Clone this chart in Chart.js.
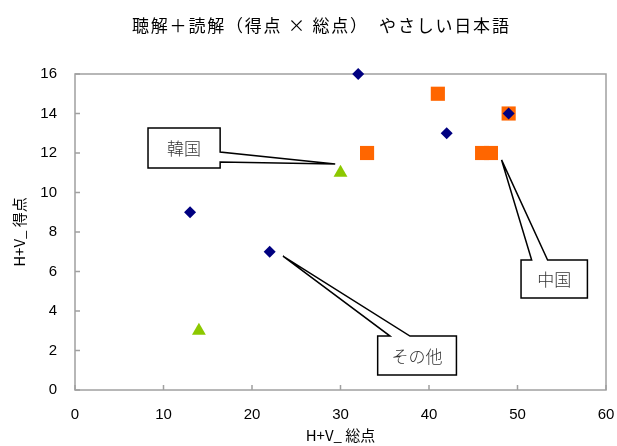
<!DOCTYPE html>
<html>
<head>
<meta charset="utf-8">
<script src="https://cdn.jsdelivr.net/npm/chart.js@4.4.1/dist/chart.umd.min.js"></script>
<style>
  html, body { margin: 0; padding: 0; background: #fff; }
  #wrap { width: 617px; height: 446px; }
</style>
</head>
<body>
<div id="wrap"><canvas id="scoreChart" width="617" height="446"></canvas></div>
<script>
// Data (x = H+V 総点, y = H+V 得点)
const otherX = [32, 13, 22, 42, 49];
const otherY = [16, 9, 7, 13, 14];
const chinaX = [41, 33, 49, 46, 47];
const chinaY = [15, 12, 14, 12, 12];
const koreaX = [30, 14];
const koreaY = [11, 3];

const xTicks = [0, 10, 20, 30, 40, 50, 60];
const yTicks = [0, 2, 4, 6, 8, 10, 12, 14, 16];

const chartTitle = '聴解＋読解（得点 × 総点）　やさしい日本語';

// callout boxes, in data units: box, side the pointer leaves from, pointer base and tip
const callouts = [
    { text: '韓国', box: [8.25, 13.27, 16.4, 11.24], side: 'right', base: [12.05, 11.54], tip: [29.4, 11.44] },
    { text: '中国', box: [50.4, 6.58, 57.9, 4.66], side: 'top', base: [51.6, 53.4], tip: [48.2, 11.65] },
    { text: 'その他', box: [34.2, 2.73, 43.1, 0.76], side: 'top', base: [35.6, 37.85], tip: [23.5, 6.78] },
];

function toPoints(xs, ys) {
    return xs.map((x, i) => ({ x: x, y: ys[i] }));
}

const frameAndTicks = {
    id: 'frameAndTicks',
    beforeDatasetsDraw(chart) {
        const { ctx, chartArea: a, scales } = chart;
        ctx.save();
        ctx.strokeStyle = '#a0a0a0';
        ctx.lineWidth = 1.5;
        ctx.strokeRect(a.left, a.top, a.right - a.left, a.bottom - a.top);
        ctx.beginPath();
        xTicks.forEach(v => {
            const px = scales.x.getPixelForValue(v);
            ctx.moveTo(px, a.bottom);
            ctx.lineTo(px, a.bottom - 5);
        });
        yTicks.forEach(v => {
            const py = scales.y.getPixelForValue(v);
            ctx.moveTo(a.left, py);
            ctx.lineTo(a.left + 5, py);
        });
        ctx.stroke();
        ctx.restore();
    },
    afterDraw(chart) {
        // title, spaced out like the original
        const { ctx } = chart;
        ctx.save();
        ctx.font = '17px "Noto Sans CJK JP"';
        ctx.letterSpacing = '1.8px';
        ctx.fillStyle = '#000';
        ctx.textAlign = 'left';
        ctx.textBaseline = 'middle';
        ctx.fillText(chartTitle, 132, 26);
        ctx.restore();
    }
};

const calloutPlugin = {
    id: 'callouts',
    afterDatasetsDraw(chart) {
        const { ctx, scales } = chart;
        const sx = v => scales.x.getPixelForValue(v);
        const sy = v => scales.y.getPixelForValue(v);
        ctx.save();
        callouts.forEach(c => {
            const l = sx(c.box[0]), t = sy(c.box[1]), r = sx(c.box[2]), b = sy(c.box[3]);
            const tx = sx(c.tip[0]), ty = sy(c.tip[1]);
            ctx.beginPath();
            ctx.moveTo(l, t);
            if (c.side === 'top') {
                ctx.lineTo(sx(c.base[0]), t);
                ctx.lineTo(tx, ty);
                ctx.lineTo(sx(c.base[1]), t);
                ctx.lineTo(r, t);
                ctx.lineTo(r, b);
            } else {
                ctx.lineTo(r, t);
                ctx.lineTo(r, sy(c.base[0]));
                ctx.lineTo(tx, ty);
                ctx.lineTo(r, sy(c.base[1]));
                ctx.lineTo(r, b);
            }
            ctx.lineTo(l, b);
            ctx.closePath();
            ctx.fillStyle = '#fff';
            ctx.fill();
            ctx.strokeStyle = '#000';
            ctx.lineWidth = 1.5;
            ctx.stroke();
            ctx.fillStyle = '#333';
            ctx.font = '300 17px "Noto Sans CJK JP"';
            ctx.textAlign = 'center';
            ctx.textBaseline = 'middle';
            ctx.fillText(c.text, (l + r) / 2, (t + b) / 2 + 1);
        });
        ctx.restore();
    }
};

const chartConfig = {
    type: 'scatter',
    data: {
        datasets: [
            {
                label: 'その他',
                data: toPoints(otherX, otherY),
                pointStyle: 'rectRot',
                pointRadius: 6,
                backgroundColor: '#000080',
                borderColor: '#000080',
                borderWidth: 0,
                clip: false,
                order: 1,
            },
            {
                label: '韓国',
                data: toPoints(koreaX, koreaY),
                pointStyle: 'triangle',
                pointRadius: 8,
                backgroundColor: '#8CC800',
                borderColor: '#8CC800',
                borderWidth: 0,
                clip: false,
                order: 2,
            },
            {
                label: '中国',
                data: toPoints(chinaX, chinaY),
                pointStyle: 'rect',
                pointRadius: 10,
                backgroundColor: '#FF6600',
                borderColor: '#FF6600',
                borderWidth: 0,
                clip: false,
                order: 3,
            },
        ],
    },
    options: {
        responsive: false,
        animation: false,
        layout: { padding: { left: 0, right: 11, top: 74, bottom: 0 } },
        plugins: {
            legend: { display: false },
            tooltip: { enabled: false },
            title: { display: false },
        },
        scales: {
            x: {
                type: 'linear',
                min: 0,
                max: 60,
                afterBuildTicks: s => { s.ticks = xTicks.map(v => ({ value: v })); },
                afterFit: s => { s.height = 56; s.paddingLeft = 0; s.paddingRight = 0; },
                grid: { display: false, drawTicks: false },
                border: { display: false },
                ticks: { color: '#000', padding: 16, font: { family: 'Liberation Sans', size: 15 } },
                title: {
                    display: true,
                    text: 'H+V_ 総点',
                    color: '#000',
                    font: { family: '"Noto Sans CJK JP"', size: 15 },
                    padding: { top: 0, bottom: 2 },
                },
            },
            y: {
                type: 'linear',
                min: 0,
                max: 16,
                afterBuildTicks: s => { s.ticks = yTicks.map(v => ({ value: v })); },
                afterFit: s => { s.width = 75; s.paddingTop = 0; s.paddingBottom = 0; },
                grid: { display: false, drawTicks: false },
                border: { display: false },
                ticks: { color: '#000', padding: 18, font: { family: 'Liberation Sans', size: 15 } },
                title: {
                    display: true,
                    text: 'H+V_ 得点',
                    color: '#000',
                    font: { family: '"Noto Sans CJK JP"', size: 15 },
                    padding: { top: 10, bottom: 0 },
                },
            },
        },
    },
    plugins: [frameAndTicks, calloutPlugin],
};

const ctx = document.getElementById('scoreChart').getContext('2d');
new Chart(ctx, chartConfig);
</script>
</body>
</html>
